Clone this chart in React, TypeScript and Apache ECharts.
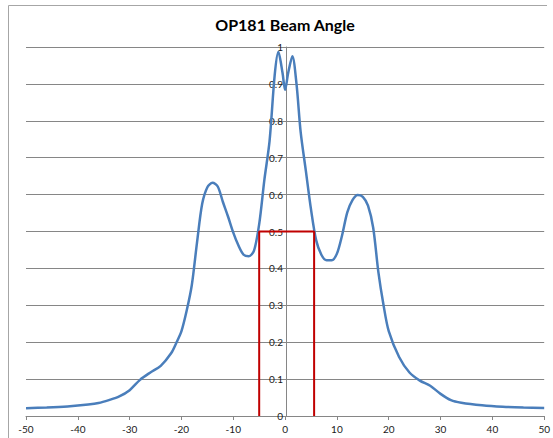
import React, { useEffect, useRef } from "react";
import * as echarts from "echarts";

const TITLE = "OP181 Beam Angle";

const angles = [
  -50, -46, -42, -38, -36, -34, -32, -30, -28, -26, -24, -22, -21, -20, -19, -18, -17, -16, -15,
  -14, -13, -12, -11, -10, -9, -8, -7, -6, -5, -4, -3, -2, -1.3, -0.5, 0, 0.6, 1.4, 2.2, 3, 4,
  5, 6, 7, 8, 9, 10, 11, 12, 13, 14, 15, 16, 17, 18, 19, 20, 22, 24, 26, 28, 30, 32, 34, 38, 42,
  46, 50,
];
const intensity = [
  0.021, 0.023, 0.026, 0.031, 0.035, 0.043, 0.053, 0.07, 0.098, 0.118, 0.136, 0.17, 0.198, 0.23,
  0.285, 0.355, 0.47, 0.575, 0.62, 0.632, 0.622, 0.58, 0.54, 0.497, 0.462, 0.437, 0.433, 0.448,
  0.52, 0.64, 0.745, 0.925, 0.987, 0.93, 0.884, 0.93, 0.975, 0.9, 0.77, 0.665, 0.56, 0.476,
  0.437, 0.422, 0.422, 0.44, 0.49, 0.552, 0.585, 0.599, 0.594, 0.57, 0.51, 0.39, 0.3, 0.23, 0.16,
  0.118, 0.096, 0.082, 0.06, 0.043, 0.036, 0.029, 0.025, 0.023, 0.022,
];

// half-maximum box (x, y)
const boxX = [-5, -5, 5.6, 5.6];
const boxY = [0, 0.5, 0.5, 0];

export default function App() {
  const ref = useRef<HTMLDivElement>(null);
  useEffect(() => {
    if (!ref.current) return;
    const chart = echarts.init(ref.current, null, { renderer: "svg" });
    const font = "Lato, 'Open Sans', sans-serif";
    chart.setOption({
      animation: false,
      backgroundColor: "#ffffff",
      textStyle: { fontFamily: font },
      grid: { left: 26, right: 7, top: 47, bottom: 22, containLabel: false },
      graphic: [
        {
          type: "line",
          shape: { x1: 8.5, y1: 5.5, x2: 8.5, y2: 438 },
          style: { stroke: "#a6a6a6", lineWidth: 1 },
        },
        {
          type: "line",
          shape: { x1: 8.5, y1: 5.5, x2: 547, y2: 5.5 },
          style: { stroke: "#a6a6a6", lineWidth: 1 },
        },
        {
          type: "text",
          x: 285,
          y: 24,
          style: {
            text: TITLE,
            textAlign: "center",
            textVerticalAlign: "middle",
            font: `bold 16px ${font}`,
            fill: "#000000",
          },
        },
      ],
      xAxis: {
        type: "value",
        min: -50,
        max: 50,
        interval: 10,
        axisLine: { onZero: false, lineStyle: { color: "#868686", width: 1 } },
        axisTick: { show: true, length: 4, inside: false, lineStyle: { color: "#868686" } },
        axisLabel: { color: "#1a1a1a", fontSize: 10, margin: 8, fontFamily: font },
        splitLine: { show: false },
      },
      yAxis: {
        type: "value",
        min: 0,
        max: 1,
        interval: 0.1,
        position: "left",
        offset: -260,
        axisLine: { show: true, onZero: false, lineStyle: { color: "#868686", width: 1 } },
        axisTick: { show: false },
        axisLabel: { color: "#1a1a1a", fontSize: 10, margin: 3, fontFamily: font },
        splitLine: { show: true, lineStyle: { color: "#868686", width: 1 } },
      },
      series: [
        {
          type: "line",
          data: angles.map((a, i) => [a, intensity[i]]),
          smooth: 0.3,
          showSymbol: false,
          symbol: "none",
          lineStyle: { color: "#4a7ebb", width: 2.5 },
          z: 2,
        },
        {
          type: "line",
          data: boxX.map((a, i) => [a, boxY[i]]),
          showSymbol: false,
          symbol: "none",
          lineStyle: { color: "#c00000", width: 2 },
          z: 3,
        },
      ],
    });
    return () => chart.dispose();
  }, []);
  return (
    <div
      ref={ref}
      style={{ position: "fixed", left: 0, top: 0, width: 553, height: 438 }}
    />
  );
}
